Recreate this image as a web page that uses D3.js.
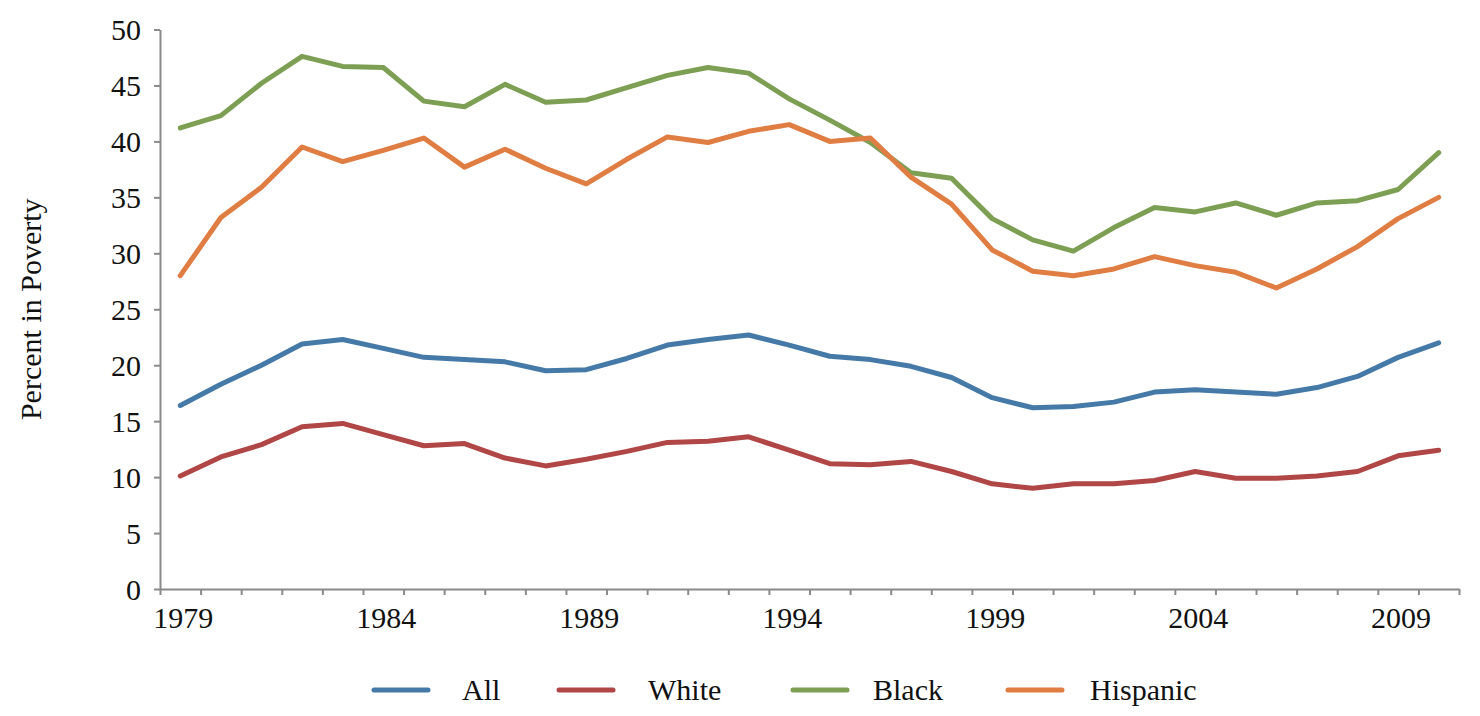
<!DOCTYPE html>
<html>
<head>
<meta charset="utf-8">
<script src="https://cdn.jsdelivr.net/npm/d3@7"></script>
<style>
  body { margin: 0; background: #fff; }
  svg text { font-family: "Liberation Serif", "DejaVu Serif", serif; fill: #111; }
</style>
</head>
<body>
<svg width="1480" height="716"></svg>
<script>
// years 1979 - 2010
var years = d3.range(1979, 2011);
var yearLabels = [1979, 1984, 1989, 1994, 1999, 2004, 2009];
var yTicks = [0, 5, 10, 15, 20, 25, 30, 35, 40, 45, 50];

var allKids = [16.4, 18.3, 20.0, 21.9, 22.3, 21.5, 20.7, 20.5, 20.3, 19.5, 19.6, 20.6, 21.8, 22.3, 22.7, 21.8,
    20.8, 20.5, 19.9, 18.9, 17.1, 16.2, 16.3, 16.7, 17.6, 17.8, 17.6, 17.4, 18.0, 19.0, 20.7, 22.0];
var white = [10.1, 11.8, 12.9, 14.5, 14.8, 13.8, 12.8, 13.0, 11.7, 11.0, 11.6, 12.3, 13.1, 13.2, 13.6, 12.4,
    11.2, 11.1, 11.4, 10.5, 9.4, 9.0, 9.4, 9.4, 9.7, 10.5, 9.9, 9.9, 10.1, 10.5, 11.9, 12.4];
var black = [41.2, 42.3, 45.2, 47.6, 46.7, 46.6, 43.6, 43.1, 45.1, 43.5, 43.7, 44.8, 45.9, 46.6, 46.1, 43.8,
    41.9, 39.9, 37.2, 36.7, 33.1, 31.2, 30.2, 32.3, 34.1, 33.7, 34.5, 33.4, 34.5, 34.7, 35.7, 39.0];
var hispanic = [28.0, 33.2, 35.9, 39.5, 38.2, 39.2, 40.3, 37.7, 39.3, 37.6, 36.2, 38.4, 40.4, 39.9, 40.9, 41.5,
    40.0, 40.3, 36.8, 34.4, 30.3, 28.4, 28.0, 28.6, 29.7, 28.9, 28.3, 26.9, 28.6, 30.6, 33.1, 35.0];

var seriesNames = ["All", "White", "Black", "Hispanic"];
var seriesValues = [allKids, white, black, hispanic];
var colors = ["#457aa8", "#b14646", "#7d9f54", "#e07d43"];

var fontFamily = "'Liberation Serif', 'DejaVu Serif', serif";
var svg = d3.select("svg");

const plotLeft = 160, plotRight = 1459, plotTop = 29.5, plotBottom = 589;

var x = d3.scaleBand().domain(years).range([plotLeft, plotRight]).padding(0);
var xEdge = d3.scaleLinear().domain([0, years.length]).range([plotLeft, plotRight]);
var y = d3.scaleLinear().domain([0, 50]).range([plotBottom, plotTop]);

// y axis
var yAxis = svg.append("g")
    .attr("transform", "translate(" + plotLeft + ",0)")
    .call(d3.axisLeft(y).tickValues(yTicks).tickSize(6).tickPadding(13).tickSizeOuter(0))
    .attr("font-family", fontFamily);
yAxis.selectAll("text").style("font-size", "30px").attr("dy", "0.34em");

// x axis: tick marks on category edges
var xTicks = svg.append("g")
    .attr("transform", "translate(0," + plotBottom + ")")
    .call(d3.axisBottom(xEdge).tickValues(d3.range(0, years.length + 1)).tickSize(6).tickFormat("").tickSizeOuter(0));

// x labels every 5 years
var xLabels = svg.append("g")
    .attr("transform", "translate(3," + plotBottom + ")")
    .call(d3.axisBottom(x).tickValues(yearLabels).tickSize(0).tickPadding(18))
    .attr("font-family", fontFamily);
xLabels.selectAll("text").style("font-size", "30px");
xLabels.select(".domain").remove();

svg.selectAll(".domain, .tick line").attr("stroke", "#8a8a8a").attr("stroke-width", 2);

// y axis title
svg.append("text")
    .attr("transform", "translate(41," + (plotTop + plotBottom) / 2 + ") rotate(-90)")
    .attr("text-anchor", "middle")
    .style("font-size", "30px")
    .text("Percent in Poverty");

// lines
var line = d3.line()
    .x(function (d, i) { return x(years[i]) + x.bandwidth() / 2; })
    .y(function (d) { return y(d); });

svg.selectAll("path.series")
    .data(seriesValues)
    .enter()
    .append("path")
    .attr("class", "series")
    .attr("d", line)
    .attr("fill", "none")
    .attr("stroke", function (d, i) { return colors[i]; })
    .attr("stroke-width", 5)
    .attr("stroke-linejoin", "round")
    .attr("stroke-linecap", "round");

// legend
const legendY = 690;
var legendLineX = [374, 559, 793, 1008];
var legendTextX = [462, 648, 873, 1090];

seriesNames.forEach(function (name, i) {
    svg.append("line")
        .attr("x1", legendLineX[i])
        .attr("x2", legendLineX[i] + 54)
        .attr("y1", legendY)
        .attr("y2", legendY)
        .attr("stroke", colors[i])
        .attr("stroke-width", 5)
        .attr("stroke-linecap", "round");
    svg.append("text")
        .attr("x", legendTextX[i])
        .attr("y", legendY + 10)
        .style("font-size", "30px")
        .text(name);
});
</script>
</body>
</html>
